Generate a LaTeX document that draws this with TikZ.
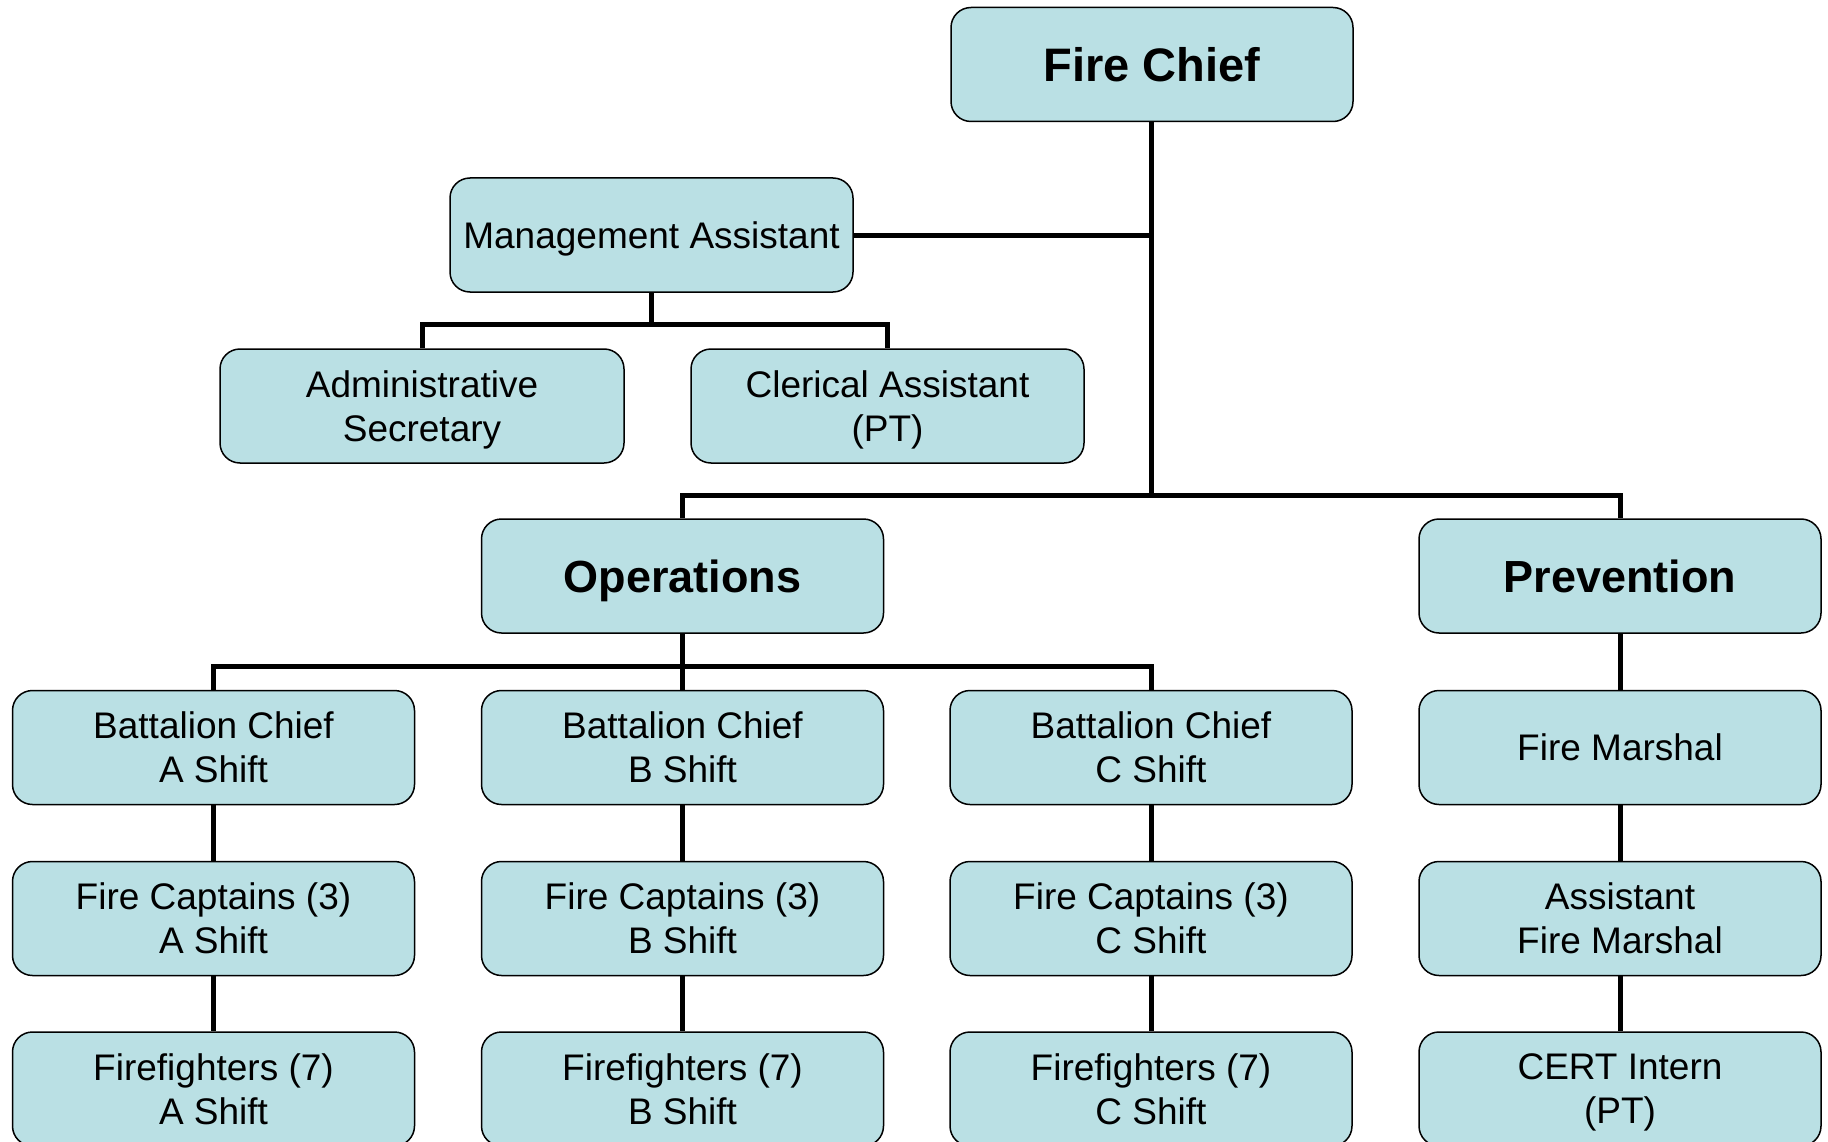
\documentclass[tikz,border=0pt]{standalone}
\usepackage{fontspec}
\setmainfont{Liberation Sans}
\definecolor{boxfill}{RGB}{186,224,228}
\begin{document}
\begin{tikzpicture}[x=1pt,y=-1pt,
  orgbox/.style={draw=black,line width=1.5pt,fill=boxfill,rounded corners=20pt,
    minimum width=402pt,minimum height=114pt,align=center,inner sep=2pt,
    text depth=0pt,font=\fontsize{37}{44}\selectfont},
  headbox/.style={orgbox,font=\fontsize{45}{52}\selectfont\bfseries},
  link/.style={line width=5pt,line cap=butt}]
\useasboundingbox (0,0) rectangle (1828,1142);
\clip (0,0) rectangle (1828,1142);
% nodes
\node[headbox,font=\fontsize{47}{54}\selectfont\bfseries] (chief) at (1152,64.5) {Fire Chief};
\node[orgbox,minimum width=403pt] (ma) at (651.5,235) {Management Assistant};
\node[orgbox,minimum width=404pt] (admin) at (422,406) {Administrative\\Secretary};
\node[orgbox,minimum width=393pt] (cler) at (887.5,406) {Clerical Assistant\\(PT)};
\node[headbox] (ops) at (682.5,576) {Operations};
\node[headbox] (prev) at (1620,576) {Prevention};
\node[orgbox] (bca) at (213.5,747.5) {Battalion Chief\\A Shift};
\node[orgbox] (bcb) at (682.5,747.5) {Battalion Chief\\B Shift};
\node[orgbox] (bcc) at (1151,747.5) {Battalion Chief\\C Shift};
\node[orgbox] (fm) at (1620,747.5) {Fire Marshal};
\node[orgbox] (fca) at (213.5,918.5) {Fire Captains (3)\\A Shift};
\node[orgbox] (fcb) at (682.5,918.5) {Fire Captains (3)\\B Shift};
\node[orgbox] (fcc) at (1151,918.5) {Fire Captains (3)\\C Shift};
\node[orgbox] (afm) at (1620,918.5) {Assistant\\Fire Marshal};
\node[orgbox] (ffa) at (213.5,1089) {Firefighters (7)\\A Shift};
\node[orgbox] (ffb) at (682.5,1089) {Firefighters (7)\\B Shift};
\node[orgbox] (ffc) at (1151,1089) {Firefighters (7)\\C Shift};
\node[orgbox] (cert) at (1620,1089) {CERT Intern\\(PT)};
% junctions
\coordinate (jtop) at (1151,495);
\coordinate (jma) at (651.5,324);
\coordinate (jops) at (682.5,666);
% connectors
\draw[link] (chief.south -| jtop) -- (jtop);
\draw[link] (ma.east) -- (ma.east -| jtop);
\draw[link] (ops.north) |- (jtop) -| (prev.north);
\draw[link] (ma.south) -- (jma);
\draw[link] (admin.north) |- (jma) -| (cler.north);
\draw[link] (ops.south) -- (bcb.north);
\draw[link] (bca.north) |- (jops) -| (bcc.north);
\draw[link] (prev.south) -- (fm.north);
\foreach \u/\v in {bca/fca,bcb/fcb,bcc/fcc,fm/afm,fca/ffa,fcb/ffb,fcc/ffc,afm/cert}
  \draw[link] (\u.south) -- (\v.north);
\end{tikzpicture}
\end{document}
